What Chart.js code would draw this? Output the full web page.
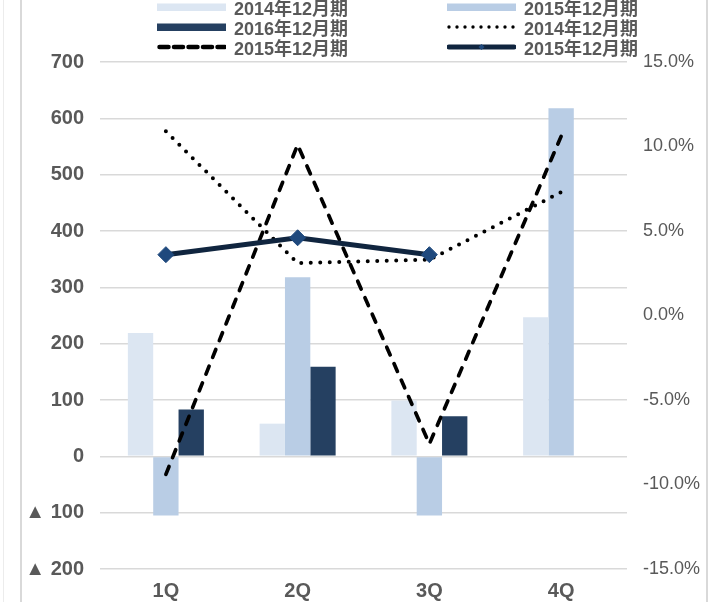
<!DOCTYPE html>
<html>
<head>
<meta charset="utf-8">
<script src="https://cdn.jsdelivr.net/npm/chart.js@4.4.1/dist/chart.umd.min.js"></script>
<style>
    html, body { margin: 0; padding: 0; background: #ffffff; }
    #wrap { position: relative; width: 724px; height: 602px; overflow: hidden; }
    #chart { position: absolute; left: 0; top: 0; }
    .frame { position: absolute; top: 0; height: 602px; }
    .legend-item {
        position: absolute; height: 20px; display: flex; align-items: center;
        font-family: "Liberation Sans", "Noto Sans CJK JP", sans-serif;
        font-weight: bold; font-size: 18px; color: #595959; white-space: nowrap;
    }
    .legend-item svg { width: 69px; height: 20px; margin-right: 8px; display: block; }
</style>
</head>
<body>
<div id="wrap">
    <div class="frame" style="left:3px;width:1px;background:#ececec"></div>
    <div class="frame" style="left:20px;width:2px;background:#d9d9d9"></div>
    <div class="frame" style="left:706px;width:2px;background:#d9d9d9"></div>
    <canvas id="chart" width="724" height="602"></canvas>
    <div id="legend"></div>
</div>
<script>
// quarters
const categories = ['1Q', '2Q', '3Q', '4Q'];

// bar series (left axis, amount)
const amount2014 = [219, 58, 99, 247];
const amount2015 = [-105, 318, -105, 618];
const amount2016 = [83, 159, 71, null];

// line series (right axis, %)
const rate2014 = [10.9, 3.1, 3.3, 7.3];
const rate2015 = [-9.4, 10.1, -7.6, 10.6];
const rate2015b = [3.6, 4.6, 3.6, null];

// axis ranges
const amountMin = -200, amountMax = 700, amountStep = 100;
const rateMin = -15, rateMax = 15, rateStep = 5;

const legendLabels = ['2014年12月期', '2015年12月期', '2016年12月期', '2014年12月期', '2015年12月期', '2015年12月期'];

const colors = {
    light: '#dce6f2',
    mid: '#b9cde5',
    dark: '#254061',
    navyLine: '#10253f',
    navyMarker: '#1f497d',
    text: '#595959',
    grid: '#d9d9d9'
};

// legend swatches, drawn as svg
const swatches = [
    `<rect x="0" y="6.5" width="69" height="7.5" fill="${colors.light}"/>`,
    `<rect x="0" y="6.5" width="69" height="7.5" fill="${colors.mid}"/>`,
    `<rect x="0" y="6.5" width="69" height="7.5" fill="${colors.dark}"/>`,
    `<line x1="2" y1="10" x2="68" y2="10" stroke="#000" stroke-width="3.4" stroke-linecap="round" stroke-dasharray="0 8"/>`,
    `<line x1="2.5" y1="10" x2="68" y2="10" stroke="#000" stroke-width="4.5" stroke-linecap="round" stroke-dasharray="9 5.5"/>`,
    `<line x1="2" y1="10" x2="67" y2="10" stroke="${colors.navyLine}" stroke-width="5" stroke-linecap="round"/>` +
        `<path d="M34.5 7 L37.5 10 L34.5 13 L31.5 10 Z" fill="${colors.navyMarker}"/>`
];
const legendPos = [
    [157, -3.5], [447, -3.5],
    [157, 16.5], [447, 16.5],
    [157, 36.5], [447, 36.5]
];

const legendEl = document.getElementById('legend');
legendLabels.forEach((label, i) => {
    const item = document.createElement('div');
    item.className = 'legend-item';
    item.style.left = legendPos[i][0] + 'px';
    item.style.top = legendPos[i][1] + 'px';
    item.innerHTML = `<svg viewBox="0 0 69 20">${swatches[i]}</svg><span>${label}</span>`;
    legendEl.appendChild(item);
});

const ctx = document.getElementById('chart');

new Chart(ctx, {
    data: {
        labels: categories,
        datasets: [
            {
                type: 'line',
                label: '2015年12月期',
                data: rate2015b,
                yAxisID: 'yRate',
                order: 0,
                borderColor: colors.navyLine,
                borderWidth: 5,
                pointStyle: 'rectRot',
                pointRadius: 8,
                pointBackgroundColor: colors.navyMarker,
                pointBorderColor: colors.navyMarker,
                pointBorderWidth: 1,
                tension: 0,
                spanGaps: false
            },
            {
                type: 'line',
                label: '2015年12月期',
                data: rate2015,
                yAxisID: 'yRate',
                order: 1,
                borderColor: '#000000',
                borderWidth: 3.7,
                borderDash: [8.5, 9.5],
                borderCapStyle: 'round',
                pointRadius: 0,
                tension: 0
            },
            {
                type: 'line',
                label: '2014年12月期',
                data: rate2014,
                yAxisID: 'yRate',
                order: 2,
                borderColor: '#000000',
                borderWidth: 4,
                borderDash: [0, 9.5],
                borderCapStyle: 'round',
                pointRadius: 0,
                tension: 0
            },
            {
                type: 'bar',
                label: '2014年12月期',
                data: amount2014,
                yAxisID: 'yAmount',
                order: 3,
                backgroundColor: colors.light
            },
            {
                type: 'bar',
                label: '2015年12月期',
                data: amount2015,
                yAxisID: 'yAmount',
                order: 3,
                backgroundColor: colors.mid
            },
            {
                type: 'bar',
                label: '2016年12月期',
                data: amount2016,
                yAxisID: 'yAmount',
                order: 3,
                backgroundColor: colors.dark
            }
        ]
    },
    options: {
        responsive: false,
        animation: false,
        datasets: {
            bar: {
                categoryPercentage: 0.577,
                barPercentage: 1.0,
                borderWidth: 0
            }
        },
        layout: {
            padding: { top: 62, left: 0, right: 0, bottom: 0 }
        },
        plugins: {
            legend: { display: false },
            tooltip: { enabled: false }
        },
        scales: {
            x: {
                grid: { display: false },
                border: { display: false },
                ticks: {
                    color: colors.text,
                    padding: 2,
                    font: { family: 'Liberation Sans', size: 20, weight: 'bold' }
                },
                afterFit: scale => { scale.height = 33; }
            },
            yAmount: {
                position: 'left',
                min: amountMin,
                max: amountMax,
                grid: { color: colors.grid, lineWidth: 1.6, drawTicks: false },
                border: { display: false },
                ticks: {
                    stepSize: amountStep,
                    color: colors.text,
                    padding: 16,
                    font: { family: 'Liberation Sans', size: 20, weight: 'bold' },
                    callback: v => v < 0 ? '▲ ' + Math.abs(v) : String(v)
                },
                afterFit: scale => { scale.width = 100; }
            },
            yRate: {
                position: 'right',
                min: rateMin,
                max: rateMax,
                grid: { display: false, drawTicks: false },
                border: { display: false },
                ticks: {
                    stepSize: rateStep,
                    color: colors.text,
                    padding: 16,
                    font: { family: 'Liberation Sans', size: 18 },
                    callback: v => v.toFixed(1) + '%'
                },
                afterFit: scale => { scale.width = 97; }
            }
        }
    }
});
</script>
</body>
</html>
